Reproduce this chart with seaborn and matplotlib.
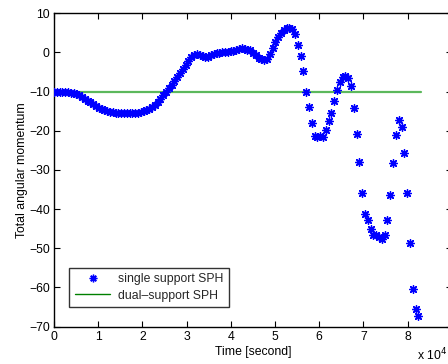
import numpy as np
import matplotlib
matplotlib.use("Agg")
import matplotlib.pyplot as plt
from matplotlib.lines import Line2D
import seaborn as sns

# ---- data ----
time = [0.000, 0.063, 0.127, 0.190, 0.254, 0.317, 0.380, 0.444, 0.507, 0.571,
        0.634, 0.697, 0.761, 0.824, 0.888, 0.951, 1.014, 1.078, 1.141, 1.205,
        1.268, 1.331, 1.395, 1.458, 1.522, 1.585, 1.648, 1.712, 1.775, 1.839,
        1.902, 1.965, 2.029, 2.092, 2.156, 2.219, 2.282, 2.346, 2.409, 2.473,
        2.536, 2.599, 2.663, 2.726, 2.790, 2.853, 2.916, 2.980, 3.043, 3.107,
        3.170, 3.233, 3.297, 3.360, 3.424, 3.487, 3.550, 3.614, 3.677, 3.741,
        3.804, 3.867, 3.931, 3.994, 4.058, 4.121, 4.184, 4.248, 4.311, 4.375,
        4.438, 4.501, 4.565, 4.628, 4.692, 4.755, 4.818, 4.882, 4.945, 5.009,
        5.072, 5.135, 5.199, 5.262, 5.326, 5.389, 5.452, 5.516, 5.579, 5.643,
        5.706, 5.769, 5.833, 5.896, 5.960, 6.023, 6.086, 6.150, 6.213, 6.277,
        6.340, 6.403, 6.467, 6.530, 6.594, 6.657, 6.720, 6.784, 6.847, 6.911,
        6.974, 7.037, 7.101, 7.164, 7.228, 7.291, 7.354, 7.418, 7.481, 7.545,
        7.608, 7.671, 7.735, 7.798, 7.862, 7.925, 7.988, 8.052, 8.115, 8.179,
        8.242]

momentum = [-10.2, -10.2, -10.2, -10.2, -10.2, -10.2, -10.3, -10.4, -10.6, -10.9,
            -11.3, -11.8, -12.3, -12.8, -13.3, -13.7, -14.1, -14.5, -14.8, -15.0,
            -15.2, -15.3, -15.4, -15.5, -15.6, -15.6, -15.5, -15.6, -15.5, -15.4,
            -15.4, -15.3, -15.1, -14.8, -14.4, -14.0, -13.4, -12.7, -11.9, -11.0,
            -10.1, -9.2, -8.3, -7.4, -6.4, -5.3, -4.2, -3.2, -2.2, -1.3,
            -0.6, -0.5, -0.7, -0.9, -1.3, -1.2, -0.8, -0.5, -0.3, -0.1,
            0.1, 0.0, 0.2, 0.3, 0.4, 0.6, 0.8, 1.0, 0.9, 0.7,
            0.5, -0.1, -0.8, -1.4, -1.8, -2.0, -1.6, -0.4, 1.2, 2.6,
            3.8, 4.9, 5.8, 6.3, 6.3, 5.9, 4.6, 1.9, -0.9, -4.7,
            -10.1, -14.0, -18.1, -21.4, -21.6, -21.4, -21.5, -19.8, -17.5, -15.4,
            -12.3, -9.6, -7.7, -6.2, -6.0, -6.5, -8.7, -14.3, -20.8, -27.9,
            -36.0, -41.3, -42.9, -45.1, -46.7, -46.7, -47.0, -47.7, -46.5, -42.9,
            -36.5, -28.3, -21.0, -17.3, -19.0, -25.8, -35.8, -48.6, -60.4, -65.5,
            -67.2]

dual_x = [0.0, 8.3]
dual_y = [-10.2, -10.2]

xticks = [0, 1, 2, 3, 4, 5, 6, 7, 8]
yticks = [-70, -60, -50, -40, -30, -20, -10, 0, 10]

series_labels = ["single support SPH", "dual\u2013support SPH"]

# ---- style ----
sns.set_theme(style="white")
plt.rcParams["font.family"] = ["Liberation Sans", "DejaVu Sans"]
FS = 8.8

fig = plt.figure(figsize=(4.48, 3.64), dpi=100)
ax = fig.add_axes([0.1205, 0.1025, 0.888, 0.8615])

sns.lineplot(x=dual_x, y=dual_y, ax=ax, color="#5cb85c", linewidth=1.6,
             legend=False)
sns.scatterplot(x=time, y=momentum, ax=ax, marker=(8, 2, 0), color="#0000ff",
                s=30, linewidth=1.0, legend=False, zorder=3)

ax.set_xlim(0, 9)
ax.set_ylim(-70, 10)
ax.set_xticks(xticks)
ax.set_yticks(yticks)
ax.set_xticklabels([str(t) for t in xticks], fontsize=FS)
ax.set_yticklabels([str(t).replace("-", "\u2212") for t in yticks], fontsize=FS)

for sp in ax.spines.values():
    sp.set_visible(True)
    sp.set_color("black")
    sp.set_linewidth(1.0)

ax.tick_params(axis="both", which="major", direction="in", length=4,
               width=0.8, color="black", top=True, right=True,
               bottom=True, left=True, labelcolor="black", pad=3)

ax.set_xlabel("Time [second]", fontsize=FS, color="black", labelpad=2)
ax.set_ylabel("Total angular momentum", fontsize=FS, color="black",
              labelpad=1)

handles = [
    Line2D([], [], linestyle="none", marker=(8, 2, 0), color="#0000ff",
           markersize=5.5, markeredgewidth=1.0),
    Line2D([], [], color="#008000", linewidth=1.0),
]
leg = ax.legend(handles, series_labels, loc="lower left",
                bbox_to_anchor=(0.0385, 0.062), borderaxespad=0,
                fontsize=FS, frameon=True, fancybox=False,
                handlelength=2.9, handletextpad=0.65, borderpad=0.45,
                labelspacing=0.35)
leg.get_frame().set_edgecolor("black")
leg.get_frame().set_linewidth(1.0)

fig.text(447 / 448, 1 / 364, "x 10$^{4}$", fontsize=FS, ha="right",
         va="bottom", color="black")

fig.savefig("out.png", dpi=100)
